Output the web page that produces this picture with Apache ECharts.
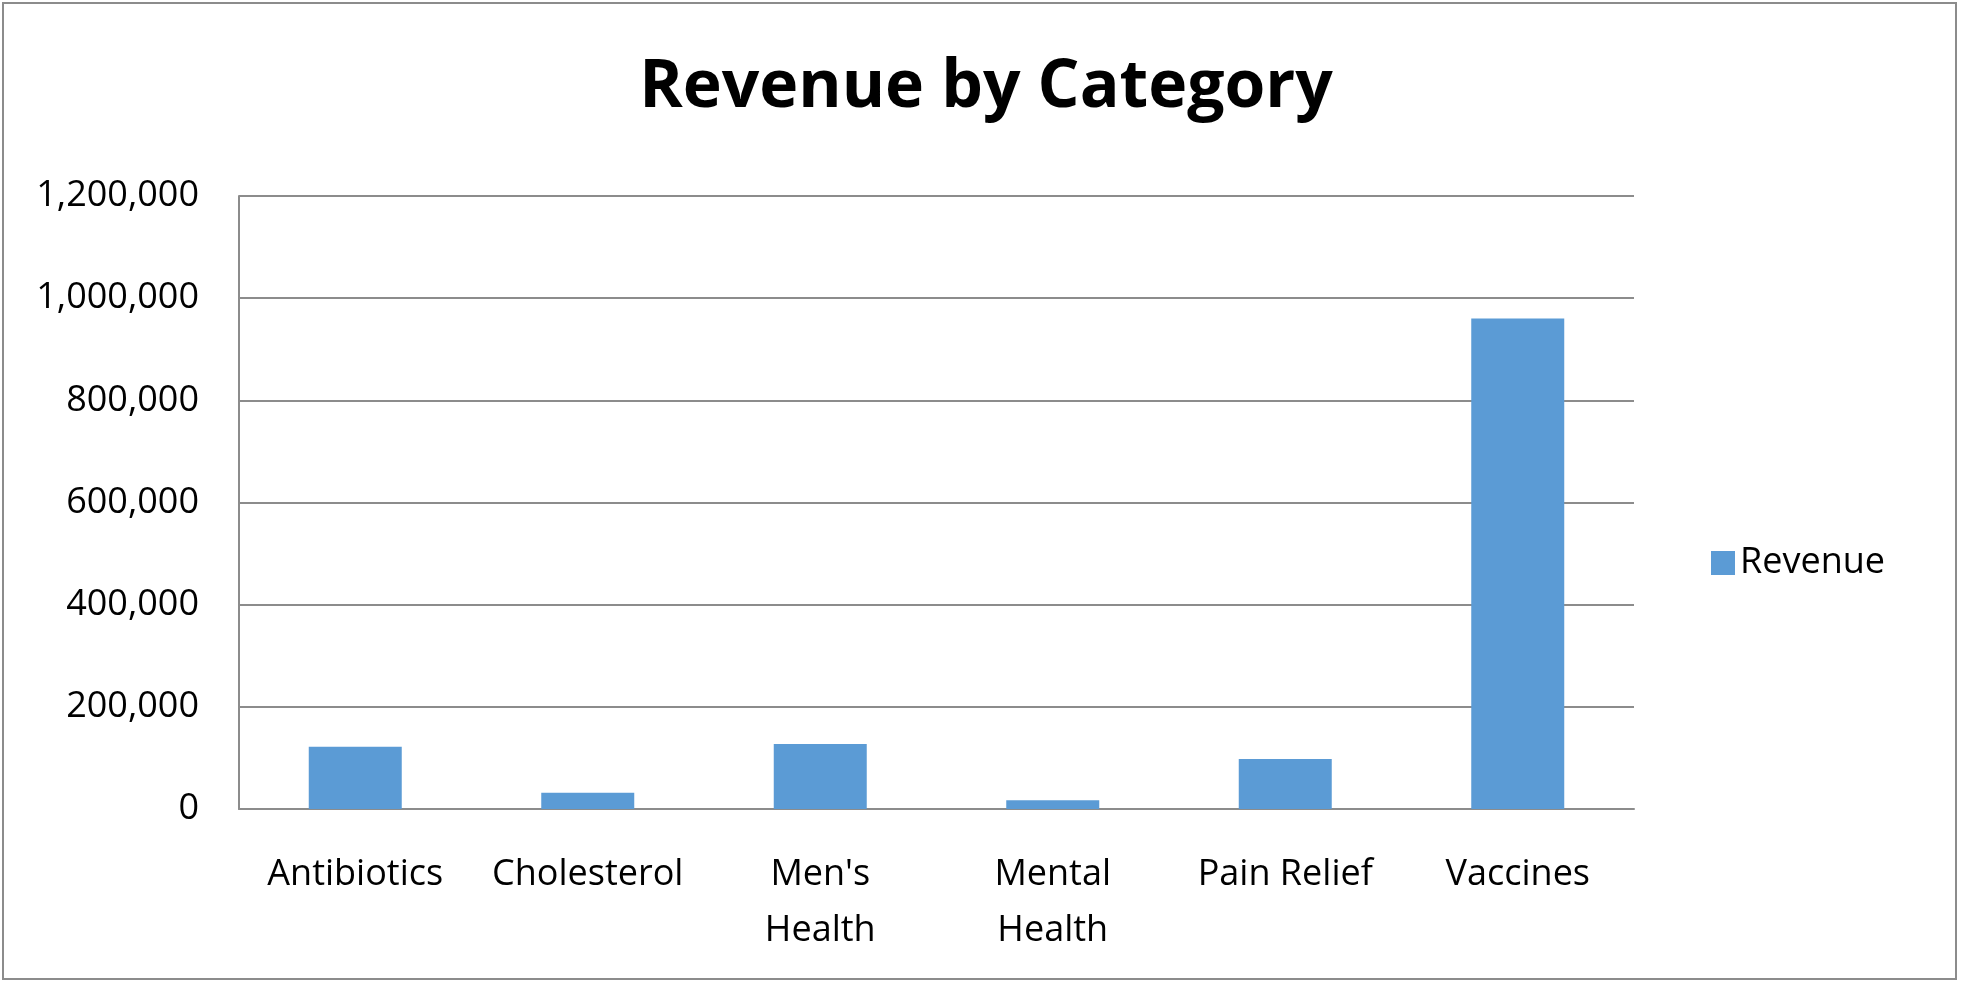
<!DOCTYPE html>
<html><head><meta charset="utf-8">
<script src="https://cdn.jsdelivr.net/npm/echarts@6/dist/echarts.min.js"></script>
<style>html,body{margin:0;background:#fff}#c{width:1961px;height:985px}</style>
</head><body><div id="c"></div>
<script>
const categories = ["Antibiotics","Cholesterol","Men's\nHealth","Mental\nHealth","Pain Relief","Vaccines"];
const revenue = [122000, 32000, 127000, 17000, 98000, 960000];
const yTicks = [0, 200000, 400000, 600000, 800000, 1000000, 1200000];
const F = "Open Sans, Noto Sans, sans-serif";
const chart = echarts.init(document.getElementById('c'));
chart.setOption({
  animation:false,
  graphic:[{type:'rect',shape:{x:3,y:3,width:1953,height:976},style:{fill:'none',stroke:'#8c8c8c',lineWidth:2}}],
  title:{text:'Revenue by Category',left:981,top:50,textAlign:'center',textStyle:{fontFamily:F,fontSize:66,fontWeight:'bold',color:'#000'}},
  legend:{left:1706,top:540,itemWidth:24,itemHeight:24,icon:'rect',textStyle:{fontFamily:F,fontSize:36,color:'#000'},data:['Revenue']},
  grid:{left:239,right:1961-1634,top:196,bottom:985-809,containLabel:false},
  xAxis:{type:'category',data:categories,axisLine:{lineStyle:{color:'#8c8c8c',width:2}},axisTick:{show:false},
    axisLabel:{fontFamily:F,fontSize:36,color:'#000',margin:38,lineHeight:56,interval:0}},
  yAxis:{type:'value',min:yTicks[0],max:yTicks[yTicks.length-1],interval:200000,
    axisLine:{show:true,lineStyle:{color:'#8c8c8c',width:2}},axisTick:{show:false},
    splitLine:{lineStyle:{color:'#8c8c8c',width:2}},
    axisLabel:{fontFamily:F,fontSize:36,color:'#000',margin:40}},
  series:[{name:'Revenue',type:'bar',data:revenue,barWidth:'40%',itemStyle:{color:'#5b9bd5'}}]
});
</script></body></html>
